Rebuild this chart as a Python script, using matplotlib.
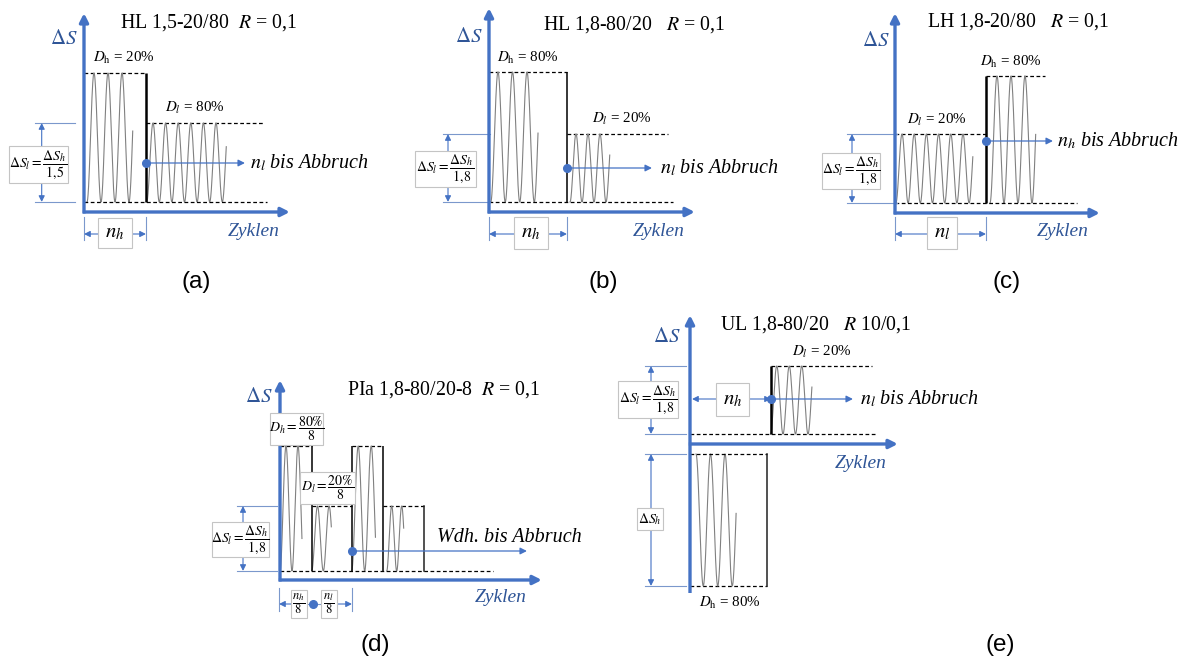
import numpy as np
import matplotlib.pyplot as plt
from matplotlib.patches import Rectangle

plt.rcParams['font.family'] = ['Liberation Serif', 'DejaVu Serif']
plt.rcParams['mathtext.fontset'] = 'stix'

BLUE = '#4472c4'
DARK_BLUE = '#2f5597'
EXT = '#7b98cc'
WAVE = '#808080'
BOX = '#c4c4c4'

# ---------------- data ----------------
tags = ['(a)', '(b)', '(c)', '(d)', '(e)']
titles = ['HL 1,5-20/80  $R$ = 0,1', 'HL 1,8-80/20   $R$ = 0,1', 'LH 1,8-20/80   $R$ = 0,1',
          'PIa 1,8-80/20-8  $R$ = 0,1', 'UL 1,8-80/20   $R$ 10/0,1']
ratios = ['1{,}5', '1{,}8', '1{,}8', '1{,}8', '1{,}8']
run_out = [r'$n_l$ bis Abbruch', r'$n_l$ bis Abbruch', r'$n_h$ bis Abbruch',
           'Wdh. bis Abbruch', r'$n_l$ bis Abbruch']
damage_h = ['20%', '80%', '80%', '80%', '80%']
damage_l = ['80%', '20%', '20%', '20%', '20%']

# load blocks per panel: stress range, block length, wave start, wave period,
# half cycles drawn, last stroke (share of the range)
a_range = [129, 79]
a_len = [62, 117]
a_start = [3, 0.7]
a_period = [14, 12.6]
a_half = [6, 12]
a_tail = [0.55, 0.70]

b_range = [130, 68]
b_len = [78, 101]
b_start = [1.75, 3]
b_period = [14.5, 12]
b_half = [6, 6]
b_tail = [0.53, 0.69]

c_range = [69, 127]
c_len = [91, 59]
c_start = [0.9, 4]
c_period = [12.2, 14]
c_half = [12, 6]
c_tail = [0.67, 0.54]

d_range = [125, 65, 125, 65]
d_len = [31.7, 40, 31.6, 40.7]
d_start = [0, 0, 0, 3.4]
d_period = [12, 11.6, 13, 10]
d_half = [3, 3, 3, 3]
d_tail = [0.74, 0.32, 0.73, 0.34]

e_up_range = [68]
e_up_len = [101]
e_up_start = [-0.5]
e_up_period = [12.5]
e_up_half = [6]
e_up_tail = [0.69]

e_lo_range = [-132]
e_lo_len = [77]
e_lo_start = [6]
e_lo_period = [14.5]
e_lo_half = [5]
e_lo_tail = [0.55]

# ---------------- drawing helpers ----------------
fig = plt.figure(figsize=(11.92, 6.60), dpi=100)
ax = fig.add_axes([0, 0, 1, 1])
ax.set_xlim(0, 1192)
ax.set_ylim(660, 0)
ax.axis('off')


def arrow(x0, y0, x1, y1, color=BLUE, lw=0.9, ms=9, z=3):
    ax.annotate('', xy=(x1, y1), xytext=(x0, y0),
                arrowprops=dict(arrowstyle='-|>', color=color, lw=lw, mutation_scale=ms,
                                shrinkA=0, shrinkB=0, capstyle='butt'), zorder=z)


def dashed(x0, x1, y):
    ax.plot([x0, x1], [y, y], color='k', lw=0.9, ls=(0, (3, 2)), zorder=2)


def wave(x0, period, n_half, tail, y_base, y_peak):
    phi = np.linspace(0, n_half * np.pi + np.arccos(1 - 2 * tail), 600)
    x = x0 + phi / (2 * np.pi) * period
    y = y_base + (y_peak - y_base) * (1 - np.cos(phi)) / 2
    ax.plot(x, y, color=WAVE, lw=0.8, zorder=2)


def blocks(x0, base, rng, ln, st, per, half, tail, lw, opened=False, closed=False):
    xs = x0
    tops = []
    for i in range(len(rng)):
        top = base - rng[i]
        tops.append(top)
        dashed(xs, xs + ln[i], top)
        wave(xs + st[i], per[i], half[i], tail[i], base, top)
        if i > 0 or opened:
            hi = top if i == 0 else (min(top, tops[i - 1]) if rng[i] > 0 else max(top, tops[i - 1]))
            ax.plot([xs, xs], [base, hi], color='k', lw=lw, zorder=3, solid_capstyle='butt')
        xs += ln[i]
    if closed:
        ax.plot([xs, xs], [base, tops[-1]], color='#222222', lw=lw, zorder=3)


def diagram_axes(ox, oy, x_end, y_top, y_bottom=None):
    yb = oy + 1.5 if y_bottom is None else y_bottom
    arrow(ox, yb, ox, y_top, lw=2.4, ms=13, z=4)
    arrow(ox - 1.2, oy, x_end, oy, lw=2.4, ms=13, z=4)


def box(x0, y0, x1, y1, text, fs, z=5):
    ax.add_patch(Rectangle((x0, y0), x1 - x0, y1 - y0, fc='white', ec=BOX, lw=0.8, zorder=z))
    ax.text((x0 + x1) / 2, (y0 + y1) / 2, text, fontsize=fs, ha='center', va='center', zorder=z + 1)


def dim_v(x, y0, y1, ex0, ex1, bx, text, fs):
    ax.plot([ex0, ex1], [y0, y0], color=EXT, lw=0.8, zorder=2)
    ax.plot([ex0, ex1], [y1, y1], color=EXT, lw=0.8, zorder=2)
    arrow(x, bx[1], x, y0, lw=0.8, ms=9)
    arrow(x, bx[3], x, y1, lw=0.8, ms=9)
    box(*bx, text, fs)


def dim_h(y, x0, x1, ty0, ty1, bx, text, fs):
    ax.plot([x0, x0], [ty0, ty1], color=EXT, lw=0.8, zorder=2)
    ax.plot([x1, x1], [ty0, ty1], color=EXT, lw=0.8, zorder=2)
    arrow(bx[0], y, x0, y, lw=0.8, ms=9)
    arrow(bx[2], y, x1, y, lw=0.8, ms=9)
    box(*bx, text, fs)


def run_arrow(x, y, x_end, tx, text):
    ax.plot(x, y, 'o', ms=5.5, color=BLUE, zorder=6)
    arrow(x, y, x_end, y, lw=0.9, ms=10)
    ax.text(tx, y, text, fontsize=14.5, style='italic', ha='left', va='center')


def labels(i, title_xy, ds_xy, zyk_xy, tag_xy):
    ax.text(*title_xy, titles[i], fontsize=14.3, ha='left', va='center')
    ax.text(*ds_xy, r'$\Delta S$', fontsize=15, color=DARK_BLUE, ha='left', va='center')
    ax.text(*zyk_xy, 'Zyklen', fontsize=14, style='italic', color=DARK_BLUE, ha='left', va='center')
    ax.text(*tag_xy, tags[i], fontsize=17.5, family='Liberation Sans', ha='center', va='center')


def dl_text(i):
    return r'$\Delta S_l = \dfrac{\Delta S_h}{' + ratios[i] + '}$'


DH = r'$D_\mathrm{h}$ = '
DL = r'$D_l$ = '
FR = 10

# ---------------- panel (a) ----------------
ox, oy = 84, 212
blocks(ox, 202, a_range, a_len, a_start, a_period, a_half, a_tail, lw=1.8)
dashed(ox, ox + 183, 202)
diagram_axes(ox, oy, 290, 13)
ax.text(93, 58, DH + damage_h[0], fontsize=10.8, ha='left', va='center')
ax.text(165, 108, DL + damage_l[0], fontsize=10.8, ha='left', va='center')
run_arrow(146, 163, 245, 250, run_out[0])
dim_v(41.7, 123, 202, 35, 75, (9, 146, 68, 183), dl_text(0), FR)
dim_h(234, 84, 146, 217, 240, (98, 218, 132, 248), r'$n_h$', 15)
labels(0, (120, 23), (50, 39), (228, 231), (196, 282))

# ---------------- panel (b) ----------------
ox, oy = 489, 212
blocks(ox, 202, b_range, b_len, b_start, b_period, b_half, b_tail, lw=1.1)
dashed(ox, ox + 184, 202)
diagram_axes(ox, oy, 695, 8)
ax.text(497, 58, DH + damage_h[1], fontsize=10.8, ha='left', va='center')
ax.text(592, 119, DL + damage_l[1], fontsize=10.8, ha='left', va='center')
run_arrow(567, 168, 652, 660, run_out[1])
dim_v(448, 134, 202, 443, 490, (415, 151, 476, 187), dl_text(1), FR)
dim_h(234, 489, 567, 217, 240, (514, 217, 548, 249), r'$n_h$', 15)
labels(1, (543, 25), (455, 38), (633, 231), (603, 282))

# ---------------- panel (c) ----------------
ox, oy = 895, 213
blocks(ox, 203, c_range, c_len, c_start, c_period, c_half, c_tail, lw=1.8)
dashed(ox, ox + 182, 203)
diagram_axes(ox, oy, 1100, 13)
ax.text(980, 62, DH + damage_h[2], fontsize=10.8, ha='left', va='center')
ax.text(907, 120, DL + damage_l[2], fontsize=10.8, ha='left', va='center')
run_arrow(986, 141, 1053, 1057, run_out[2])
dim_v(852, 134, 203, 847, 897, (822, 153, 880, 189), dl_text(2), FR)
dim_h(234, 895, 986, 217, 240, (927, 217, 957, 249), r'$n_l$', 15)
labels(2, (927, 22), (862, 42), (1037, 232), (1007, 282))

# ---------------- panel (d) ----------------
ox, oy = 280, 580
blocks(ox, 571, d_range, d_len, d_start, d_period, d_half, d_tail, lw=1.1, closed=True)
dashed(ox, ox + 213, 571)
diagram_axes(ox, oy, 542, 380)
box(270, 413, 323, 445, r'$D_h = \dfrac{80\%}{8}$', FR)
box(300, 472, 355, 504, r'$D_l = \dfrac{20\%}{8}$', FR)
run_arrow(352, 551, 527, 437, '')
ax.text(437, 537, run_out[3], fontsize=14.5, style='italic', ha='left', va='center')
dim_v(243, 506, 571, 237, 277, (212, 522, 269, 557), dl_text(3), FR)
ax.plot([279, 279], [588, 611], color=EXT, lw=0.8)
ax.plot([352, 352], [588, 611], color=EXT, lw=0.8)
arrow(291, 604, 279, 604, lw=0.8, ms=9)
arrow(337, 604, 352, 604, lw=0.8, ms=9)
ax.plot([307, 321], [604, 604], color=EXT, lw=0.8)
ax.plot(313, 604, 'o', ms=5.5, color=BLUE, zorder=6)
box(291, 590, 307, 618, r'$\dfrac{n_h}{8}$', 9)
box(321, 590, 337, 618, r'$\dfrac{n_l}{8}$', 9)
labels(3, (347, 390), (245, 397), (475, 598), (375, 645))

# ---------------- panel (e) ----------------
ox, oy = 690, 444
blocks(771, 434, e_up_range, e_up_len, e_up_start, e_up_period, e_up_half, e_up_tail,
       lw=1.8, opened=True)
dashed(ox, ox + 185, 434)
blocks(ox, 454, e_lo_range, e_lo_len, e_lo_start, e_lo_period, e_lo_half, e_lo_tail,
       lw=1.1, closed=True)
dashed(ox, 767, 454)
diagram_axes(ox, oy, 898, 315, y_bottom=593)
ax.text(792, 352, DL + damage_l[4], fontsize=10.8, ha='left', va='center')
ax.text(699, 603, DH + damage_h[4], fontsize=10.8, ha='left', va='center')
arrow(716, 399, 692, 399, lw=0.8, ms=9)
arrow(749, 399, 771, 399, lw=0.8, ms=9)
box(716, 383, 749, 416, r'$n_h$', 15)
run_arrow(771, 399, 853, 860, run_out[4])
dim_v(651, 366, 434, 645, 686, (618, 381, 678, 418), dl_text(4), FR)
dim_v(651, 454, 586, 645, 686, (637, 508, 663, 530), r'$\Delta S_h$', FR)
labels(4, (720, 325), (653, 337), (835, 463), (1000, 645))

fig.savefig('out.png', dpi=100, facecolor='white')
